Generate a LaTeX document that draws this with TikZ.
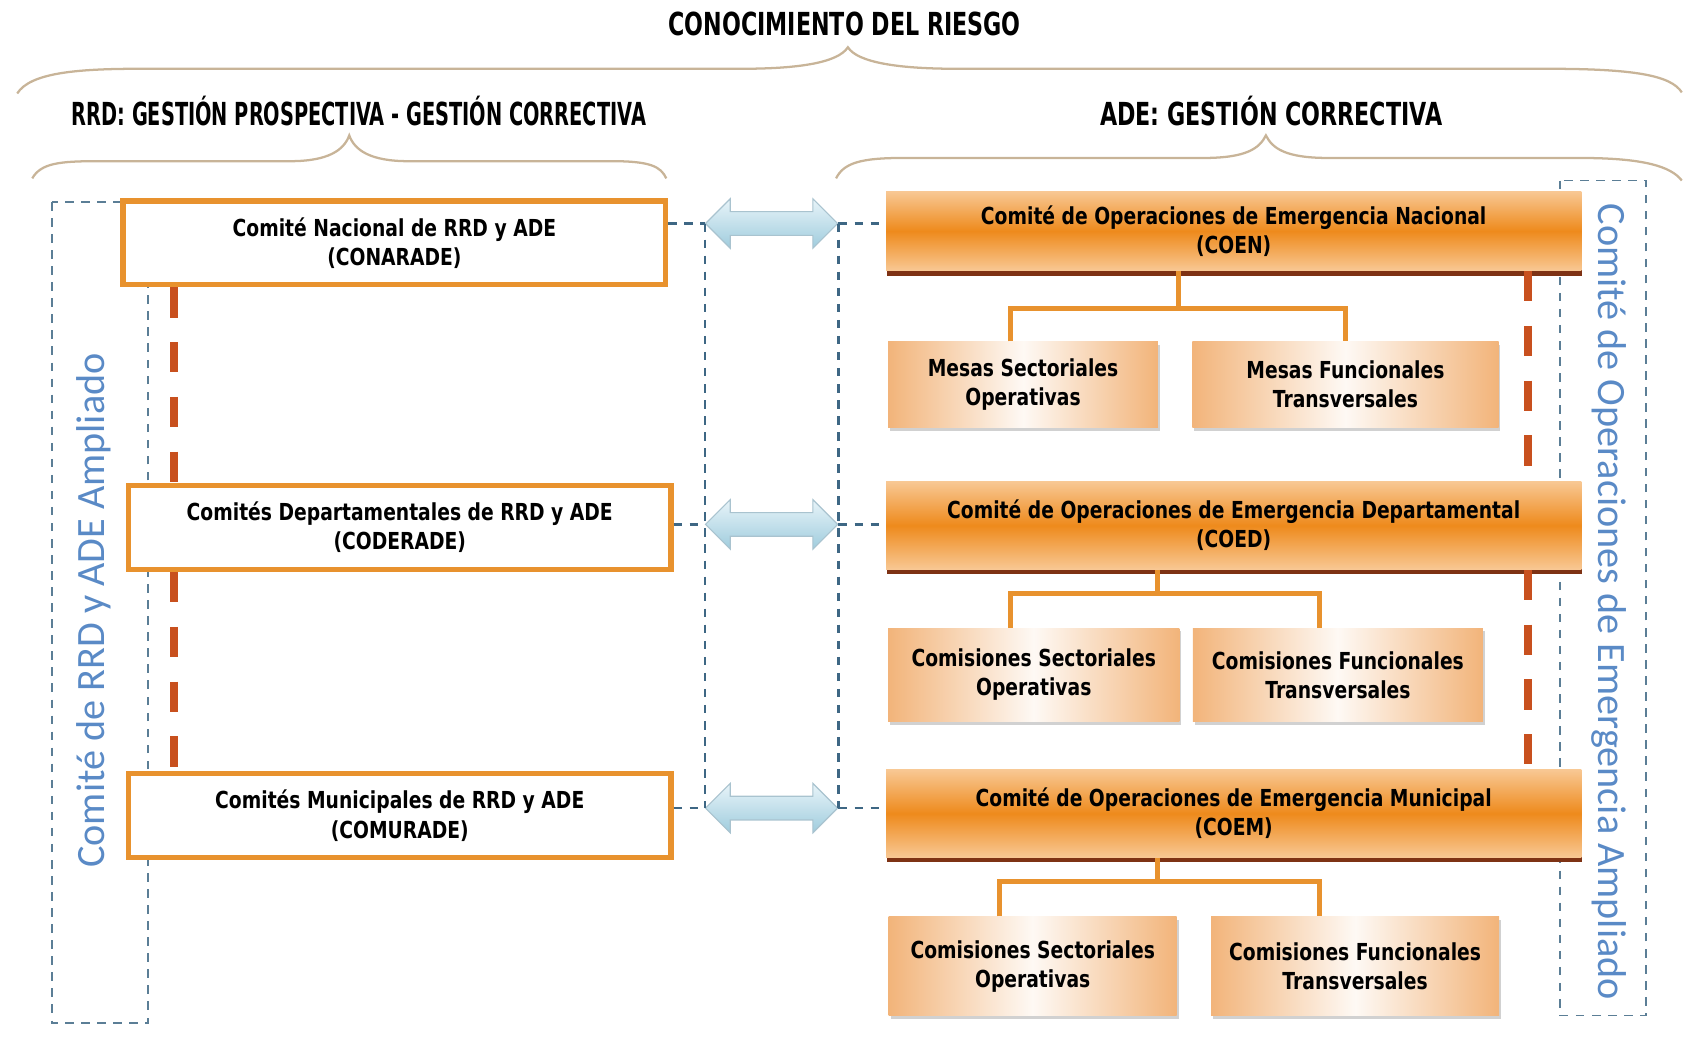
\documentclass[tikz,border=0pt]{standalone}
\usepackage{fontspec}
\setmainfont{DejaVu Sans}
\newfontfamily\boxfont[FakeStretch=0.8]{DejaVu Sans}
\newfontfamily\headfont[FakeStretch=0.7]{DejaVu Sans}
\newfontfamily\narrowhead[FakeStretch=0.61]{DejaVu Sans}
\newfontfamily\sidefont{Carlito}
\usetikzlibrary{shapes.arrows,shadows}

\definecolor{boxorange}{HTML}{E8922E}
\definecolor{deeporange}{HTML}{EE8A1C}
\definecolor{lightorange}{HTML}{F8C894}
\definecolor{peach}{HTML}{F2B47A}
\definecolor{shadowred}{HTML}{7E3214}
\definecolor{linkred}{HTML}{C8501E}
\definecolor{dashblue}{HTML}{3E6784}
\definecolor{sideblue}{HTML}{5A8AC6}
\definecolor{bracetan}{HTML}{C8B498}
\definecolor{arrowtop}{HTML}{E8F4F9}
\definecolor{arrowbot}{HTML}{9FCCDD}
\definecolor{arrowedge}{HTML}{A9C3CF}

\tikzset{
  head/.style={font={\headfont\bfseries\fontsize{16.8}{20}\selectfont}, inner sep=0pt},
  comite/.style={draw=boxorange, line width=2.8pt, fill=white, align=center,
    font={\boxfont\bfseries\fontsize{12.4}{15.4}\selectfont},
    minimum width=10.1cm, minimum height=1.56cm},
  coe/.style={top color=lightorange, bottom color=lightorange, middle color=deeporange,
    align=center, font={\boxfont\bfseries\fontsize{12.4}{15.4}\selectfont},
    minimum width=12.94cm, minimum height=1.64cm,
    drop shadow={shadow xshift=0.6pt, shadow yshift=-2.6pt, fill=shadowred, opacity=1}},
  mesa/.style={left color=peach, right color=peach, middle color=white!92!peach,
    align=center, font={\boxfont\bfseries\fontsize{12.4}{15.4}\selectfont},
    drop shadow={shadow xshift=1pt, shadow yshift=-1.6pt, fill=black!40, opacity=0.45}},
  biarrow/.style={double arrow, double arrow head extend=0.24cm, minimum height=2.46cm,
    inner xsep=0pt, inner ysep=0.21cm, draw=arrowedge, line width=0.6pt,
    top color=arrowtop, bottom color=arrowbot},
  side/.style={text=sideblue, font={\sidefont\fontsize{21.3}{24}\selectfont}, inner sep=0pt},
  brace/.style={draw=bracetan, line width=1.2pt},
  frame/.style={draw=dashblue!85, line width=1pt, dash pattern=on 4.5pt off 4pt},
  linkdash/.style={draw=dashblue, line width=1.2pt, dash pattern=on 4.5pt off 4pt},
  chain/.style={draw=linkred, line width=4.5pt, dash pattern=on 16pt off 13pt},
  tree/.style={draw=boxorange, line width=2.6pt}
}

\begin{document}
\begin{tikzpicture}[x=0.02cm, y=-0.02cm]
  \useasboundingbox (0,0) rectangle (1568,966);

  % headings and braces
  \node[head] (riesgo) at (786,22) {CONOCIMIENTO DEL RIESGO};
  \node[head, font={\narrowhead\bfseries\fontsize{16.8}{20}\selectfont}] (rrd) at (334,103) {RRD: GESTIÓN PROSPECTIVA - GESTIÓN CORRECTIVA};
  \node[head] (ade) at (1183,103) {ADE: GESTIÓN CORRECTIVA};
  \draw[brace] (16,87) .. controls (28,68) and (70,64) .. (130,64) -- (690,64)
    .. controls (745,64) and (780,58) .. (789,44) .. controls (798,58) and (835,64) .. (890,64)
    -- (1440,64) .. controls (1520,64) and (1555,70) .. (1565,86);
  \draw[brace] (30,166) .. controls (38,152) and (55,150) .. (90,150) -- (270,150)
    .. controls (305,150) and (320,140) .. (325,126) .. controls (330,140) and (345,150) .. (380,150)
    -- (570,150) .. controls (605,150) and (615,155) .. (620,166);
  \draw[brace] (778,166) .. controls (785,152) and (800,147) .. (840,147) -- (1120,147)
    .. controls (1160,147) and (1172,138) .. (1178,126) .. controls (1184,138) and (1196,147) .. (1236,147)
    -- (1470,147) .. controls (1530,147) and (1555,155) .. (1565,168);

  % ampliado frames
  \draw[frame] (48,188) rectangle (138,952);
  \draw[frame] (1452,168) rectangle (1532,945);
  \node[side, rotate=90] (ampliadoA) at (87,568) {Comité de RRD y ADE Ampliado};
  \node[side, rotate=-90] (ampliadoB) at (1497,560) {Comité de Operaciones de Emergencia Ampliado};

  % arrows between both sides
  \node[biarrow] (arrA) at (718,208) {};
  \node[biarrow] (arrB) at (718,488) {};
  \node[biarrow] (arrC) at (718,752) {};

  \coordinate (lx) at (162,0);
  \coordinate (rx) at (1422,0);

  % left side
  \node[comite] (conarade) at (367,226) {Comité Nacional de RRD y ADE\\(CONARADE)};
  \node[comite] (coderade) at (372,491) {Comités Departamentales de RRD y ADE\\(CODERADE)};
  \node[comite] (comurade) at (372,759) {Comités Municipales de RRD y ADE\\(COMURADE)};
  \draw[chain] (conarade.south -| lx) -- (coderade.north -| lx);
  \draw[chain] (coderade.south -| lx) -- (comurade.north -| lx);

  % right side
  \node[coe, minimum height=1.48cm] (coen) at (1148,215) {Comité de Operaciones de Emergencia Nacional\\(COEN)};
  \node[coe] (coed) at (1148,489) {Comité de Operaciones de Emergencia Departamental\\(COED)};
  \node[coe] (coem) at (1148,757) {Comité de Operaciones de Emergencia Municipal\\(COEM)};
  \draw[chain] (coen.south -| rx) -- (coed.north -| rx);
  \draw[chain] (coed.south -| rx) -- (coem.north -| rx);

  \node[mesa, minimum width=5.02cm, minimum height=1.6cm] (ms1) at (952,358) {Mesas Sectoriales\\Operativas};
  \node[mesa, minimum width=5.7cm, minimum height=1.6cm] (mf1) at (1252,358) {Mesas Funcionales\\Transversales};
  \node[mesa, minimum width=5.42cm, minimum height=1.74cm] (cs2) at (962,628) {Comisiones Sectoriales\\Operativas};
  \node[mesa, minimum width=5.4cm, minimum height=1.74cm] (cf2) at (1245,628) {Comisiones Funcionales\\Transversales};
  \node[mesa, minimum width=5.36cm, minimum height=1.84cm] (cs3) at (961,899) {Comisiones Sectoriales\\Operativas};
  \node[mesa, minimum width=5.36cm, minimum height=1.84cm] (cf3) at (1261,899) {Comisiones Funcionales\\Transversales};

  % trees
  \coordinate (j1) at (1097,287);
  \coordinate (j2) at (1077,552);
  \coordinate (j3) at (1077,820);
  \draw[tree] (coen.south -| j1) -- (j1);
  \draw[tree] (ms1.north -| 940,0) |- (j1) -| (mf1.north -| 1252,0);
  \draw[tree] (coed.south -| j2) -- (j2);
  \draw[tree] (cs2.north -| 940,0) |- (j2) -| (cf2.north -| 1228,0);
  \draw[tree] (coem.south -| j3) -- (j3);
  \draw[tree] (cs3.north -| 930,0) |- (j3) -| (cf3.north -| 1228,0);

  % dashed links
  \draw[linkdash] (arrA.west -| conarade.east) -- (arrA.west);
  \draw[linkdash] (arrB.west -| coderade.east) -- (arrB.west);
  \draw[linkdash] (arrC.west -| comurade.east) -- (arrC.west);
  \draw[linkdash] (arrA.west) -- (arrC.west);
  \draw[linkdash] (arrA.east) -- (arrA.east -| coen.west);
  \draw[linkdash] (arrB.east) -- (arrB.east -| coed.west);
  \draw[linkdash] (arrC.east) -- (arrC.east -| coem.west);
  \draw[linkdash] (arrA.east) -- (arrC.east);
\end{tikzpicture}
\end{document}
